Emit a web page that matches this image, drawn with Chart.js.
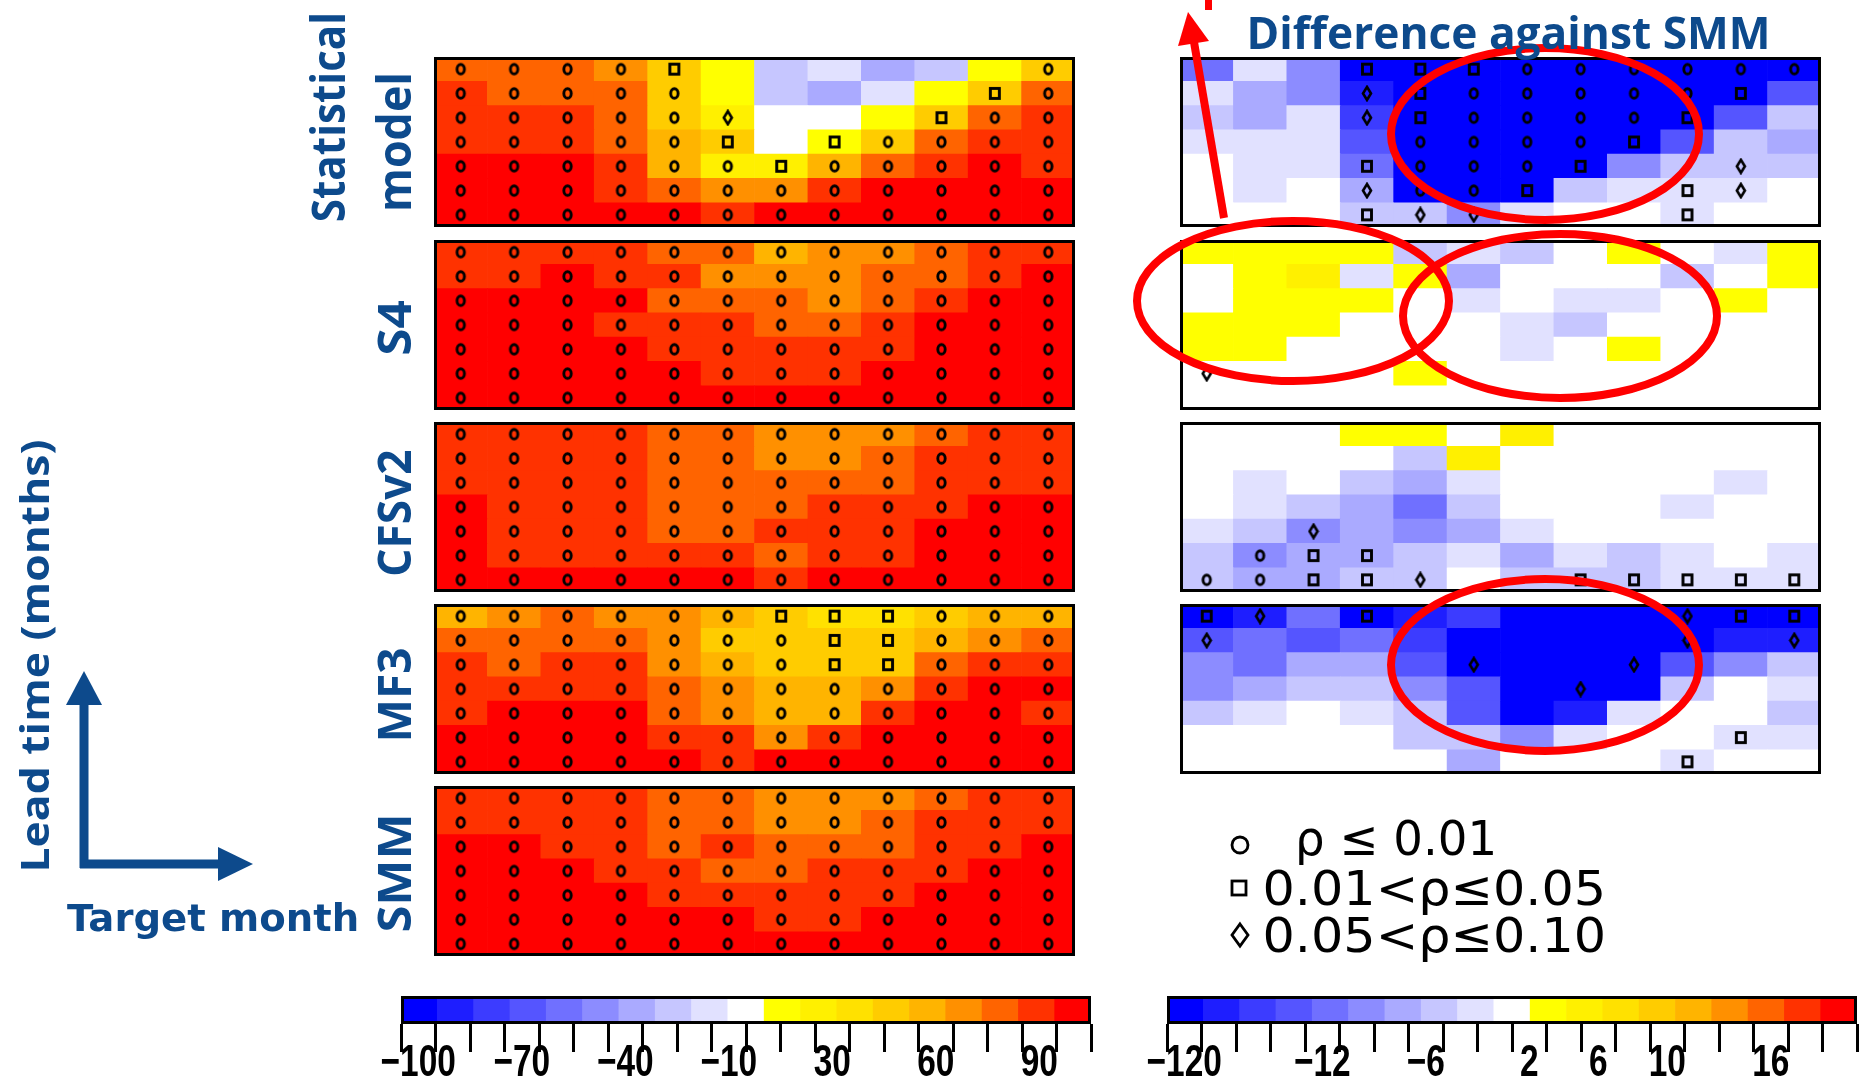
<!DOCTYPE html>
<html>
<head>
<meta charset="utf-8">
<script src="https://cdn.jsdelivr.net/npm/chart.js@4.4.1/dist/chart.umd.min.js"></script>
<style>
  body { margin: 0; background: #fff; }
  #page { position: relative; width: 1863px; height: 1081px; overflow: hidden; background: #fff; }
  #page canvas { position: absolute; }
  #page svg { position: absolute; left: 0; top: 0; }
</style>
</head>
<body>
<div id="page"></div>
<script>
// target months (columns) and lead times (rows, top row first)
const months = ['Jan','Feb','Mar','Apr','May','Jun','Jul','Aug','Sep','Oct','Nov','Dec'];
const leadRows = [6, 5, 4, 3, 2, 1, 0];

// skill scores, left column (one row per lead time, top to bottom)
const statModel = [
  [75,75,75,65,45,15,-25,-15,-35,-25,15,45],
  [85,75,75,75,45,15,-25,-35,-15,15,45,75],
  [85,85,85,75,45,25,0,0,15,45,75,85],
  [85,85,85,75,55,45,0,15,45,75,85,85],
  [95,95,95,85,55,25,25,55,75,85,95,85],
  [95,95,95,85,75,65,65,85,95,95,95,95],
  [95,95,95,95,95,85,95,95,95,95,95,95]
];
const s4 = [
  [85,85,85,85,75,75,55,65,65,75,85,85],
  [85,85,95,85,85,65,65,65,75,75,85,95],
  [95,95,95,95,75,75,75,65,75,85,95,95],
  [95,95,95,85,85,85,75,75,85,95,95,95],
  [95,95,95,95,85,85,85,85,85,95,95,95],
  [95,95,95,95,95,85,85,85,95,95,95,95],
  [95,95,95,95,95,95,95,95,95,95,95,95]
];
const cfsv2 = [
  [85,85,85,85,75,75,65,65,65,75,85,85],
  [85,85,85,85,75,75,65,65,75,85,85,85],
  [85,85,85,85,75,75,75,75,75,85,85,85],
  [95,85,85,85,75,75,75,85,85,85,95,95],
  [95,85,85,85,75,75,85,85,85,95,95,95],
  [95,85,85,85,85,85,75,85,85,95,95,95],
  [95,95,95,95,95,95,85,95,95,95,95,95]
];
const mf3 = [
  [55,65,75,65,65,55,45,35,35,45,55,55],
  [75,75,75,75,65,45,45,45,45,55,65,75],
  [85,75,85,85,65,55,45,45,45,75,85,85],
  [85,85,85,85,75,65,55,55,65,85,95,95],
  [85,95,95,95,75,65,55,55,85,95,95,85],
  [95,95,95,95,85,85,65,85,95,95,95,95],
  [95,95,95,95,95,85,95,95,95,95,95,95]
];
const smm = [
  [85,85,85,85,75,75,65,65,65,75,85,85],
  [85,85,85,85,75,75,65,65,75,85,85,85],
  [95,95,85,85,75,85,75,75,75,85,85,95],
  [95,95,95,85,85,75,75,85,85,85,95,95],
  [95,95,95,95,85,85,85,85,85,95,95,95],
  [95,95,95,95,95,95,85,85,95,95,95,95],
  [95,95,95,95,95,95,95,95,95,95,95,95]
];

// differences against SMM, right column
const statDiff = [
  [-11,-3,-9,-20,-20,-20,-20,-20,-20,-20,-20,-20],
  [-3,-7,-9,-17,-20,-20,-20,-20,-20,-20,-20,-13],
  [-5,-7,-3,-15,-20,-20,-20,-20,-20,-20,-13,-5],
  [-3,-3,-3,-13,-20,-20,-20,-20,-20,-13,-5,-7],
  [0,-3,-3,-11,-20,-20,-20,-20,-9,-5,-5,-5],
  [0,-3,0,-7,-20,-20,-20,-5,-3,-3,-3,0],
  [0,0,0,-5,-5,-9,-3,0,0,-3,0,0]
];
const s4Diff = [
  [3,3,3,3,-5,-3,-5,0,3,0,-3,3],
  [0,3,5,-3,3,-7,0,0,0,-5,0,3],
  [0,3,3,3,0,-3,0,-3,-3,0,3,0],
  [3,3,3,0,0,0,-3,-5,0,0,0,0],
  [3,3,0,0,0,0,-3,0,3,0,0,0],
  [0,0,0,0,3,0,0,0,0,0,0,0],
  [0,0,0,0,0,0,0,0,0,0,0,0]
];
const cfsv2Diff = [
  [0,0,0,3,3,0,5,0,0,0,0,0],
  [0,0,0,0,-5,5,0,0,0,0,0,0],
  [0,-3,0,-5,-7,-3,0,0,0,0,-3,0],
  [0,-3,-5,-7,-11,-5,0,0,0,-3,0,0],
  [-3,-5,-9,-7,-9,-7,-3,0,0,0,0,0],
  [-5,-9,-7,-7,-5,-3,-7,-3,-5,-3,0,-3],
  [-5,-7,-7,-5,-5,0,-5,-5,-5,-3,-3,-3]
];
const mf3Diff = [
  [-20,-17,-11,-20,-17,-15,-20,-20,-20,-20,-20,-20],
  [-13,-11,-13,-11,-15,-20,-20,-20,-20,-20,-17,-17],
  [-9,-11,-7,-7,-13,-20,-20,-20,-20,-13,-9,-5],
  [-9,-7,-5,-5,-9,-13,-20,-20,-20,-5,0,-3],
  [-5,-3,0,-3,-5,-13,-20,-17,-3,0,0,-5],
  [0,0,0,0,-5,-5,-9,-3,0,0,-3,-3],
  [0,0,0,0,0,-7,0,0,0,-3,0,0]
];

// significance: o p<=0.01, s 0.01<p<=0.05, d 0.05<p<=0.10, . none
const allO = 'oooooooooooo';
const statSig = ['oooos......o','ooooo.....so','oooood...soo','ooooos.soooo','oooooosooooo',allO,allO];
const s4Sig = [allO,allO,allO,allO,allO,allO,allO];
const cfsv2Sig = [allO,allO,allO,allO,allO,allO,allO];
const mf3Sig = ['oooooosssooo','ooooooossooo','ooooooossooo',allO,allO,allO,allO];
const smmSig = [allO,allO,allO,allO,allO,allO,allO];
const statDiffSig = ['...sssoooooo','...dsooooos.','...dsoooos..','....oooos...','...sooos..d.','...doos..sd.','...sdd...s..'];
const s4DiffSig = ['............','............','............','............','............','d...........','............'];
const cfsv2DiffSig = ['............','............','............','............','..d.........','.oss........','oossd..sssss'];
const mf3DiffSig = ['sd.s.....dss','d........d.d','.....d..d...','.......d....','............','..........s.','.........s..'];

// colour scales
const palette = ['#0000ff','#1e1eff','#3c3cff','#5555ff','#7070ff','#8c8cff','#aaaaff','#c6c6ff','#e1e1ff','#ffffff',
                 '#ffff00','#fff000','#ffe100','#ffcc00','#ffb400','#ff9000','#ff6400','#ff3200','#ff0000'];
const skillBounds = [-100,-90,-80,-70,-60,-50,-40,-30,-20,-10,10,20,30,40,50,60,70,80,90,100];
const skillLabels = [-100,-70,-40,-10,30,60,90];
const diffBounds = [-120,-18,-16,-14,-12,-10,-8,-6,-4,-2,2,4,6,8,10,12,14,16,18,120];
const diffLabels = [-120,-12,-6,2,6,10,16];

const page = document.getElementById('page');
const BLUE = '#0d4a8c';

function colorFor(v, bounds) {
  for (let i = 0; i < bounds.length - 1; i++) {
    if (v >= bounds[i] && v < bounds[i + 1]) return palette[i];
  }
  return v < bounds[0] ? palette[0] : palette[palette.length - 1];
}

// small marker images
function symbol(kind) {
  const c = document.createElement('canvas');
  let g;
  if (kind === 'o') {
    c.width = 13; c.height = 15;
    g = c.getContext('2d');
    g.strokeStyle = '#000'; g.lineWidth = 2.9;
    g.beginPath(); g.ellipse(6.5, 7.5, 3.7, 4.8, 0, 0, Math.PI * 2); g.stroke();
  } else if (kind === 's') {
    c.width = 14; c.height = 15;
    g = c.getContext('2d');
    g.strokeStyle = '#000'; g.lineWidth = 2.9;
    g.strokeRect(2.5, 2.5, 9, 10);
  } else {
    c.width = 12; c.height = 17;
    g = c.getContext('2d');
    g.strokeStyle = '#000'; g.lineWidth = 2.6;
    g.beginPath(); g.moveTo(6, 2); g.lineTo(10, 8.5); g.lineTo(6, 15); g.lineTo(2, 8.5); g.closePath(); g.stroke();
  }
  return c;
}
const marks = { o: symbol('o'), s: symbol('s'), d: symbol('d') };

const frame = {
  id: 'frame',
  afterDatasetsDraw(chart) {
    const { ctx, chartArea: a } = chart;
    ctx.save();
    ctx.lineWidth = 3;
    ctx.strokeStyle = '#000';
    ctx.strokeRect(a.left + 1.5, a.top + 1.5, a.right - a.left - 3, a.bottom - a.top - 3);
    ctx.restore();
  }
};

function addCanvas(x, y, w, h) {
  const cv = document.createElement('canvas');
  cv.width = w; cv.height = h;
  cv.style.left = x + 'px'; cv.style.top = y + 'px';
  page.appendChild(cv);
  return cv;
}

function heatmap(x, y, values, sig, bounds) {
  const cv = addCanvas(x, y, 641, 170);
  const n = leadRows.length;
  const datasets = [];
  // stacked from the bottom row up
  for (let r = n - 1; r >= 0; r--) {
    datasets.push({
      type: 'bar',
      data: months.map(() => 1),
      backgroundColor: values[r].map(v => colorFor(v, bounds)),
      borderWidth: 0,
      barPercentage: 1,
      categoryPercentage: 1,
      yAxisID: 'y',
      order: 1
    });
  }
  const pts = [];
  sig.forEach((row, r) => {
    row.split('').forEach((m, c) => {
      if (m !== '.') pts.push({ x: months[c], y: n - r - 0.5, m: m });
    });
  });
  datasets.push({
    type: 'scatter',
    data: pts,
    yAxisID: 'ys',
    pointStyle: ctx => marks[ctx.raw.m],
    radius: 5,
    order: 0
  });
  new Chart(cv, {
    type: 'bar',
    data: { labels: months, datasets: datasets },
    options: {
      responsive: false,
      animation: false,
      events: [],
      layout: { padding: 0, autoPadding: false },
      plugins: { legend: { display: false }, tooltip: { enabled: false } },
      scales: {
        x: { type: 'category', stacked: true, display: false, offset: true },
        y: { stacked: true, min: 0, max: n, display: false },
        ys: { min: 0, max: n, display: false }
      }
    },
    plugins: [frame]
  });
}

function colorbar(x0, x1, bounds, shown) {
  const padL = 70, padR = 70, top = 990;
  const cv = addCanvas(x0 - padL, top, x1 - x0 + padL + padR, 1081 - top);
  const fmt = v => (v < 0 ? '\u2212' + Math.abs(v) : String(v));
  // tick labels in a condensed bold face, centred under their tick
  const tickText = {
    id: 'tickText',
    afterDraw(chart) {
      const { ctx } = chart;
      const sc = chart.scales.xt;
      ctx.save();
      ctx.fillStyle = '#000';
      ctx.font = "bold 44px 'Liberation Sans', Arial, sans-serif";
      ctx.textAlign = 'center';
      ctx.textBaseline = 'alphabetic';
      bounds.forEach((b, i) => {
        if (!shown.includes(b)) return;
        ctx.save();
        ctx.translate(sc.getPixelForValue(i), 86);
        ctx.scale(0.76, 1);
        ctx.fillText(fmt(b), 0, 0);
        ctx.restore();
      });
      ctx.restore();
    }
  };
  new Chart(cv, {
    type: 'bar',
    data: {
      labels: palette.map((_, i) => i),
      datasets: [{
        data: palette.map(() => 1),
        backgroundColor: palette,
        borderWidth: 0,
        barPercentage: 1,
        categoryPercentage: 1,
        xAxisID: 'xc'
      }]
    },
    options: {
      responsive: false,
      animation: false,
      events: [],
      layout: { padding: { left: padL, right: padR, top: 6, bottom: 0 }, autoPadding: false },
      plugins: { legend: { display: false }, tooltip: { enabled: false } },
      scales: {
        xc: { type: 'category', display: false, offset: true },
        y: { min: 0, max: 1, display: false },
        xt: {
          type: 'linear',
          position: 'bottom',
          min: 0,
          max: bounds.length - 1,
          afterFit: s => { s.height = 57; },
          afterBuildTicks: s => { s.ticks = bounds.map((b, i) => ({ value: i })); },
          ticks: { display: false },
          grid: { drawOnChartArea: false, tickLength: 28, tickWidth: 3, tickColor: '#000' },
          border: { display: false }
        }
      }
    },
    plugins: [frame, tickText]
  });
}

// left column: skill, right column: difference against SMM
const tops = [57, 240, 422, 604, 786];
heatmap(434, tops[0], statModel, statSig, skillBounds);
heatmap(434, tops[1], s4, s4Sig, skillBounds);
heatmap(434, tops[2], cfsv2, cfsv2Sig, skillBounds);
heatmap(434, tops[3], mf3, mf3Sig, skillBounds);
heatmap(434, tops[4], smm, smmSig, skillBounds);
heatmap(1180, tops[0], statDiff, statDiffSig, diffBounds);
heatmap(1180, tops[1], s4Diff, s4DiffSig, diffBounds);
heatmap(1180, tops[2], cfsv2Diff, cfsv2DiffSig, diffBounds);
heatmap(1180, tops[3], mf3Diff, mf3DiffSig, diffBounds);

colorbar(401, 1091, skillBounds, skillLabels);
colorbar(1167, 1857, diffBounds, diffLabels);

// annotations: arrows, ellipses, legend markers
const svgNS = 'http://www.w3.org/2000/svg';
const svg = document.createElementNS(svgNS, 'svg');
svg.setAttribute('width', 1863);
svg.setAttribute('height', 1081);
svg.innerHTML = `
  <g fill="none" stroke="#ff0000" stroke-width="8">
    <ellipse cx="1545" cy="134" rx="154" ry="86"/>
    <ellipse cx="1293" cy="301" rx="156" ry="80"/>
    <ellipse cx="1560" cy="316" rx="157" ry="82"/>
    <ellipse cx="1545" cy="665" rx="154" ry="86"/>
    <line x1="1224" y1="218" x2="1194" y2="42"/>
  </g>
  <polygon points="1188,12 1209,41 1178,46" fill="#ff0000"/>
  <rect x="1205" y="0" width="7" height="10" fill="#ff0000"/>
  <g stroke="${BLUE}" stroke-width="9" fill="none">
    <line x1="84" y1="868" x2="84" y2="700"/>
    <line x1="80" y1="864" x2="222" y2="864"/>
  </g>
  <polygon points="84,671 66,705 102,705" fill="${BLUE}"/>
  <polygon points="253,864 218,847 218,881" fill="${BLUE}"/>
  <g fill="none" stroke="#000" stroke-width="2.8">
    <circle cx="1240" cy="845" r="8"/>
    <rect x="1232" y="881" width="14" height="14"/>
    <polygon points="1240,924 1248,935 1240,946 1232,935"/>
  </g>`;
page.appendChild(svg);

// text, squeezed/stretched to the measured extent
function label(txt, o) {
  const el = document.createElement('div');
  el.textContent = txt;
  el.style.position = 'absolute';
  el.style.whiteSpace = 'nowrap';
  el.style.lineHeight = '1';
  el.style.fontFamily = o.family;
  el.style.fontSize = o.size + 'px';
  el.style.fontWeight = o.weight || 'normal';
  el.style.color = o.color || '#000';
  page.appendChild(el);
  const w = el.offsetWidth, h = el.offsetHeight;
  const s = o.w ? o.w / w : 1;
  el.style.left = (o.cx - w / 2) + 'px';
  el.style.top = (o.cy - h / 2) + 'px';
  el.style.transform = `rotate(${o.rot || 0}deg) scaleX(${s})`;
}

function drawLabels() {
  const sans = "'Open Sans', sans-serif";
  const blueBold = { family: sans, weight: 'bold', color: BLUE };
  label('Difference against SMM', { ...blueBold, size: 44, cx: 1508, cy: 32, w: 524 });
  label('Statistical', { ...blueBold, size: 46, cx: 326, cy: 117, w: 210, rot: -90 });
  label('model', { ...blueBold, size: 46, cx: 393, cy: 142, w: 140, rot: -90 });
  label('S4', { ...blueBold, size: 46, cx: 393, cy: 328, w: 56, rot: -90 });
  label('CFSv2', { ...blueBold, size: 46, cx: 393, cy: 513, w: 127, rot: -90 });
  label('MF3', { ...blueBold, size: 46, cx: 393, cy: 695, w: 95, rot: -90 });
  label('SMM', { ...blueBold, size: 46, cx: 393, cy: 873, w: 119, rot: -90 });
  label('Lead time (months)', { ...blueBold, size: 40, cx: 34, cy: 656, w: 433, rot: -90 });
  label('Target month', { family: "'DejaVu Sans', sans-serif", weight: 'bold', color: BLUE, size: 37, cx: 213, cy: 918, w: 292 });
  const legendFont = "'DejaVu Sans', sans-serif";
  label('\u03c1 \u2264 0.01', { family: legendFont, size: 48, cx: 1396, cy: 838, w: 202 });
  label('0.01<\u03c1\u22640.05', { family: legendFont, size: 48, cx: 1434, cy: 888, w: 344 });
  label('0.05<\u03c1\u22640.10', { family: legendFont, size: 48, cx: 1434, cy: 935, w: 344 });
}
if (document.fonts && document.fonts.ready) {
  document.fonts.ready.then(drawLabels);
} else {
  drawLabels();
}
</script>
</body>
</html>
